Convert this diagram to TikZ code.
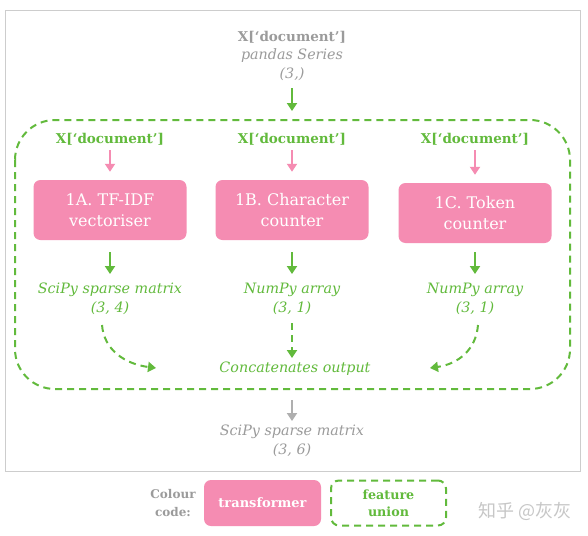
\documentclass[tikz,border=0pt]{standalone}
\usepackage{fontspec}
\setmainfont{DejaVu Serif}
\newfontfamily\cjkfont{Noto Sans CJK SC}
\usetikzlibrary{arrows.meta}
\definecolor{fugreen}{RGB}{98,186,60}
\definecolor{fupink}{RGB}{245,140,178}
\definecolor{fugray}{RGB}{155,155,155}
\definecolor{fuframe}{RGB}{205,205,205}
\tikzset{
  x=1pt, y=-1pt,
  tip/.style={-{Triangle[length=8pt,width=10pt]}},
  garrow/.style={tip, draw=fugreen, line width=2pt},
  parrow/.style={tip, draw=fupink, line width=2pt},
  grarrow/.style={tip, draw=fugray!80, line width=2pt},
  dgarrow/.style={tip, draw=fugreen, line width=2pt, dash pattern=on 7pt off 5pt},
  union/.style={draw=fugreen, line width=2pt, dash pattern=on 7pt off 5pt},
  tbox/.style={fill=fupink, rounded corners=7pt, minimum width=153pt, minimum height=60pt, text=white, align=center, font=\fontsize{16}{21}\selectfont, inner sep=0pt},
  inlabel/.style={text=fugreen, font=\bfseries\fontsize{13.5}{15}\selectfont, inner sep=1pt},
  outlabel/.style={text=fugreen, font=\itshape\fontsize{14.3}{19}\selectfont, align=center, inner sep=1pt},
  graytxt/.style={text=fugray, font=\itshape\fontsize{14.3}{19}\selectfont, align=center, inner sep=1pt},
}
\begin{document}
\begin{tikzpicture}
\useasboundingbox (0,0) rectangle (588,535);
\fill[white] (0,0) rectangle (588,535);
\draw[fuframe, line width=1pt] (5,11) rectangle (580,471);

% top input
\node[inner sep=1pt, text=fugray, font=\bfseries\fontsize{13.5}{15}\selectfont] (xin) at (292,37) {X[‘document’]};
\node[graytxt] (insub) at (292,65) {pandas Series\\(3,)};
\coordinate (uniontop) at (292,111);
\draw[garrow] (292,88) -- (uniontop);

% feature union
\draw[union, rounded corners=40pt] (15,120) rectangle (570,389);

% columns
\node[inlabel] (xa) at (110,139) {X[‘document’]};
\node[inlabel] (xb) at (292,139) {X[‘document’]};
\node[inlabel] (xc) at (475,139) {X[‘document’]};

\node[tbox] (ta) at (110,210) {1A. TF-IDF\\vectoriser};
\node[tbox] (tb) at (292,210) {1B. Character\\counter};
\node[tbox] (tc) at (475,213) {1C. Token\\counter};

\draw[parrow] (110,150) -- ([yshift=8pt]ta.north);
\draw[parrow] (292,150) -- ([yshift=8pt]tb.north);
\draw[parrow] (475,150) -- ([yshift=8pt]tc.north);

\node[outlabel] (oa) at (110,299) {SciPy sparse matrix\\(3, 4)};
\node[outlabel] (ob) at (292,299) {NumPy array\\(3, 1)};
\node[outlabel] (oc) at (475,299) {NumPy array\\(3, 1)};

\draw[garrow] ([yshift=-12pt]ta.south) -- (110,274);
\draw[garrow] ([yshift=-12pt]tb.south) -- (292,274);
\draw[garrow] ([yshift=-9pt]tc.south) -- (475,274);

\node[text=fugreen, font=\itshape\fontsize{14.3}{16}\selectfont, inner sep=1pt] (concat) at (295,369) {Concatenates output};

\draw[dgarrow] (102,325) .. controls (104,350) and (125,364) .. (156,368);
\draw[dgarrow] (292,323) -- (292,358);
\draw[dgarrow] (478,325) .. controls (476,350) and (458,364) .. (430,368);

% output
\node[graytxt] (out) at (292,441) {SciPy sparse matrix\\(3, 6)};
\draw[grarrow] (292,400) -- (292,421);

% legend
\node[text=fugray, font=\bfseries\fontsize{12}{18}\selectfont, align=center, inner sep=0pt] (cc) at (173,503) {Colour\\code:};
\node[fill=fupink, rounded corners=7pt, minimum width=117pt, minimum height=46pt, text=white, font=\bfseries\fontsize{13}{15}\selectfont, inner sep=0pt] (lt) at (262.5,503) {transformer};
\node[union, rounded corners=8pt, minimum width=115pt, minimum height=45pt, text=fugreen, align=center, font=\bfseries\fontsize{12.7}{17}\selectfont, inner sep=0pt] (lu) at (388.5,503) {feature\\union};
\node[text=black!22, font=\cjkfont\fontsize{18}{20}\selectfont, inner sep=0pt] (wm) at (525,511) {知乎 @灰灰};
\end{tikzpicture}
\end{document}
